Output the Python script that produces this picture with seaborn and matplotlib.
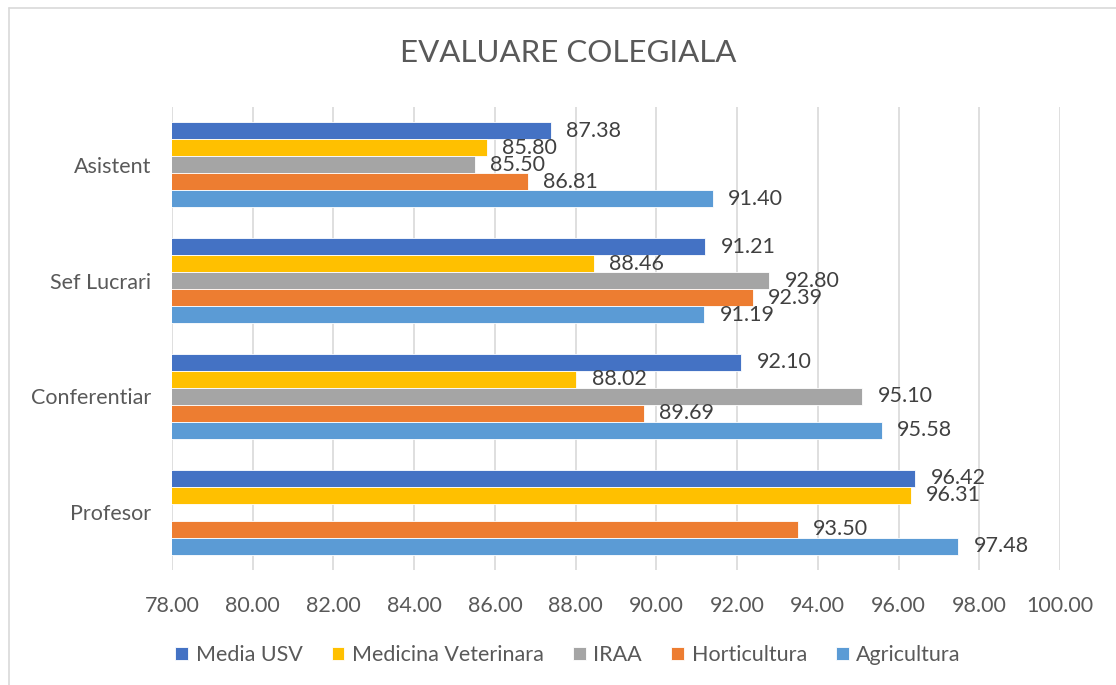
import matplotlib
matplotlib.use("Agg")
import matplotlib.pyplot as plt
import seaborn as sns
import pandas as pd
import numpy as np

categories = ["Asistent", "Sef Lucrari", "Conferentiar", "Profesor"]
series = ["Media USV", "Medicina Veterinara", "IRAA", "Horticultura", "Agricultura"]
media_usv = [87.38, 91.21, 92.10, 96.42]
medicina_veterinara = [85.80, 88.46, 88.02, 96.31]
iraa = [85.50, 92.80, 95.10, np.nan]
horticultura = [86.81, 92.39, 89.69, 93.50]
agricultura = [91.40, 91.19, 95.58, 97.48]
colors = ["#4472C4", "#FFC000", "#A5A5A5", "#ED7D31", "#5B9BD5"]
xticks = [78, 80, 82, 84, 86, 88, 90, 92, 94, 96, 98, 100]

values = [media_usv, medicina_veterinara, iraa, horticultura, agricultura]
rows = []
for s, vals in zip(series, values):
    for c, v in zip(categories, vals):
        rows.append({"Categorie": c, "Serie": s, "Valoare": v})
df = pd.DataFrame(rows)

sns.set_theme(style="white")
plt.rcParams["font.family"] = ["Lato", "DejaVu Sans"]

fig = plt.figure(figsize=(11.16, 6.85), dpi=100)
ax = fig.add_axes([172/1116, 1-570/685, (1060-172)/1116, (570-107)/685])

sns.barplot(data=df.dropna(), y="Categorie", x="Valoare", hue="Serie",
            order=categories, hue_order=series, palette=colors, saturation=1,
            orient="h", width=0.735, edgecolor="white", linewidth=0.6,
            ax=ax, legend=True, errorbar=None)

for cont in ax.containers:
    ax.bar_label(cont, fmt="%.2f", padding=11, fontsize=15.5, color="#404040")

ax.set_xlim(78, 100)
ax.set_ylim(3.5, -0.5)
ax.set_xticks(xticks)
ax.set_xticklabels([f"{t:.2f}" for t in xticks])
ax.tick_params(axis="x", labelsize=15.5, colors="#595959", length=0, pad=19)
ax.tick_params(axis="y", labelsize=15.5, colors="#595959", length=0, pad=15)
ax.set_xlabel("")
ax.set_ylabel("")
ax.xaxis.grid(True, color="#D9D9D9", linewidth=1.2)
ax.set_axisbelow(True)
for sp in ax.spines.values():
    sp.set_visible(False)

handles, labels = ax.get_legend_handles_labels()
ax.legend_.remove()
fig.legend(handles, labels, loc="center", bbox_to_anchor=(0.509, 1-655/685),
           ncol=5, frameon=False, fontsize=15.5, labelcolor="#595959",
           handlelength=0.6, handleheight=0.6, handletextpad=0.35, columnspacing=1.35)

fig.text(0.509, 1-53/685, "EVALUARE COLEGIALA", ha="center", va="center",
         fontsize=22.5, color="#595959")

fig.add_artist(plt.Line2D([9/1116, 9/1116], [0, 1-8/685], transform=fig.transFigure,
                          color="#D9D9D9", linewidth=1.2))
fig.add_artist(plt.Line2D([9/1116, 1], [1-8/685, 1-8/685], transform=fig.transFigure,
                          color="#D9D9D9", linewidth=1.2))

fig.savefig("out.png", dpi=100)
